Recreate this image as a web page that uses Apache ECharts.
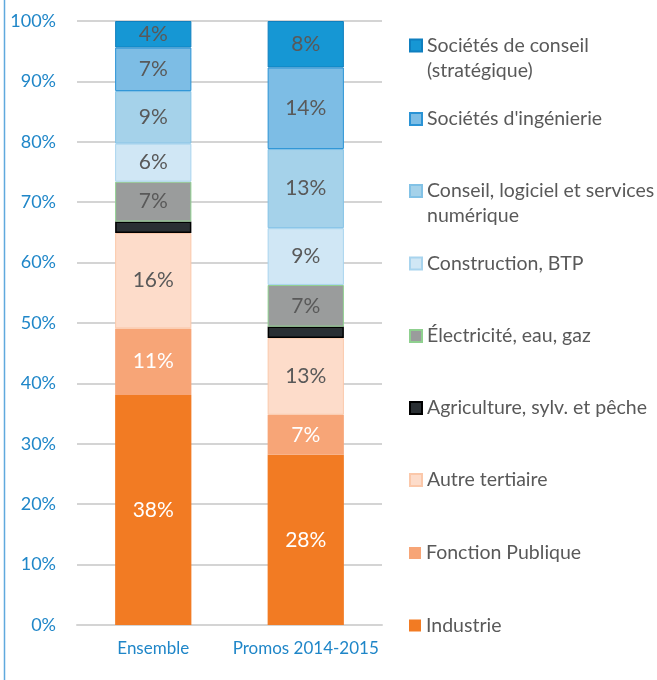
<!DOCTYPE html>
<html>
<head>
<meta charset="utf-8">
<script src="https://cdn.jsdelivr.net/npm/echarts@6/dist/echarts.min.js"></script>
<style>
  html, body { margin: 0; padding: 0; background: #fff; }
  #chart { width: 657px; height: 680px; }
</style>
</head>
<body>
<div id="chart"></div>
<script>
// Répartition des diplômés par secteur d'activité (en % du total)
const categories = ['Ensemble', 'Promos 2014-2015'];
const yTicks = [0, 10, 20, 30, 40, 50, 60, 70, 80, 90, 100];

const sectorNames = [
  'Industrie',
  'Fonction Publique',
  'Autre tertiaire',
  'Agriculture, sylv. et pêche',
  'Électricité, eau, gaz',
  'Construction, BTP',
  'Conseil, logiciel et services numérique',
  "Sociétés d'ingénierie",
  'Sociétés de conseil (stratégique)'
];

const industrie        = [38.1, 28.2];
const fonctionPublique = [11.0, 6.6];
const autreTertiaire   = [15.8, 12.7];
const agriculture      = [1.9, 1.9];
const electricite      = [6.6, 6.9];
const construction     = [6.3, 9.4];
const conseilLogiciel  = [8.7, 13.1];
const ingenierie       = [7.2, 13.5];
const conseilStrat     = [4.4, 7.7];

const seriesValues = [
  industrie, fonctionPublique, autreTertiaire, agriculture, electricite,
  construction, conseilLogiciel, ingenierie, conseilStrat
];

// Legend text, wrapped as displayed
const legendLabels = {
  'Sociétés de conseil (stratégique)': 'Sociétés de conseil\n(stratégique)',
  'Conseil, logiciel et services numérique': 'Conseil, logiciel et services\nnumérique'
};

// Visual styles per sector (same order as sectorNames)
const styles = [
  { color: '#f27b23', borderColor: '#f27b23', borderWidth: 0,   label: '#ffffff', showLabel: true },
  { color: '#f7a577', borderColor: '#f7a577', borderWidth: 0,   label: '#ffffff', showLabel: true },
  { color: '#fddcca', borderColor: '#fbc8aa', borderWidth: 1,   label: '#595959', showLabel: true },
  { color: '#2a2f33', borderColor: '#000000', borderWidth: 1.5, label: '#595959', showLabel: false },
  { color: '#9a9c9c', borderColor: '#8fd08f', borderWidth: 1,   label: '#595959', showLabel: true },
  { color: '#d0e7f5', borderColor: '#a8d4ee', borderWidth: 1,   label: '#595959', showLabel: true },
  { color: '#a5d2ea', borderColor: '#82c2e6', borderWidth: 1,   label: '#595959', showLabel: true },
  { color: '#7dbde5', borderColor: '#2a93d5', borderWidth: 1,   label: '#595959', showLabel: true },
  { color: '#1697d4', borderColor: '#0f7fbf', borderWidth: 1,   label: '#595959', showLabel: true }
];

const FONT = 'Lato, "Noto Sans", sans-serif';
const LEGEND_LINE = 25;
// Vertical centre of each legend marker, top entry first
const legendCenters = [45.5, 119, 191, 263.5, 336, 408, 480, 553, 625.5];
const legendOrder = sectorNames.slice().reverse();

const series = sectorNames.map((name, i) => ({
  name: name,
  type: 'bar',
  stack: 'total',
  barWidth: '50%',
  data: seriesValues[i],
  itemStyle: {
    color: styles[i].color,
    borderColor: styles[i].borderColor,
    borderWidth: styles[i].borderWidth
  },
  label: {
    show: styles[i].showLabel,
    position: 'inside',
    color: styles[i].label,
    fontFamily: FONT,
    fontSize: 21,
    formatter: p => Math.round(p.value) + '%'
  },
  emphasis: { disabled: true }
}));

const legends = legendOrder.map((name, k) => {
  const wrapped = legendLabels[name];
  // a blank first line keeps the marker level with the first text line
  const text = wrapped ? ' \n' + wrapped : name;
  const lines = text.split('\n').length;
  const h = lines * LEGEND_LINE;
  return {
    data: [name],
    orient: 'vertical',
    left: 409,
    top: legendCenters[k] - h / 2,
    padding: 0,
    itemWidth: 12,
    itemHeight: 12,
    itemGap: 0,
    selectedMode: false,
    icon: 'rect',
    formatter: () => text,
    textStyle: {
      fontFamily: FONT,
      fontSize: 19.5,
      lineHeight: LEGEND_LINE,
      color: '#595959'
    }
  };
});

const chart = echarts.init(document.getElementById('chart'), null, { renderer: 'canvas' });
chart.setOption({
  animation: false,
  backgroundColor: '#ffffff',
  grid: { left: 77, right: 275, top: 21, bottom: 55, containLabel: false },
  legend: legends,
  xAxis: {
    type: 'category',
    data: categories,
    axisTick: { show: false },
    axisLine: { show: true, lineStyle: { color: '#d4d4d4', width: 2 } },
    axisLabel: { interval: 0, color: '#1f86c8', fontFamily: FONT, fontSize: 17, margin: 15 }
  },
  yAxis: {
    type: 'value',
    min: yTicks[0],
    max: yTicks[yTicks.length - 1],
    interval: yTicks[1] - yTicks[0],
    axisLine: { show: false },
    axisTick: { show: false },
    splitLine: { lineStyle: { color: '#d4d4d4', width: 2 } },
    axisLabel: {
      color: '#1f86c8',
      fontFamily: FONT,
      fontSize: 18,
      margin: 21,
      formatter: '{value}%'
    }
  },
  graphic: [{
    type: 'line',
    shape: { x1: 4.5, y1: 0, x2: 4.5, y2: 680 },
    style: { stroke: '#5fa9dd', lineWidth: 1.5 },
    silent: true
  }],
  series: series
});
</script>
</body>
</html>
